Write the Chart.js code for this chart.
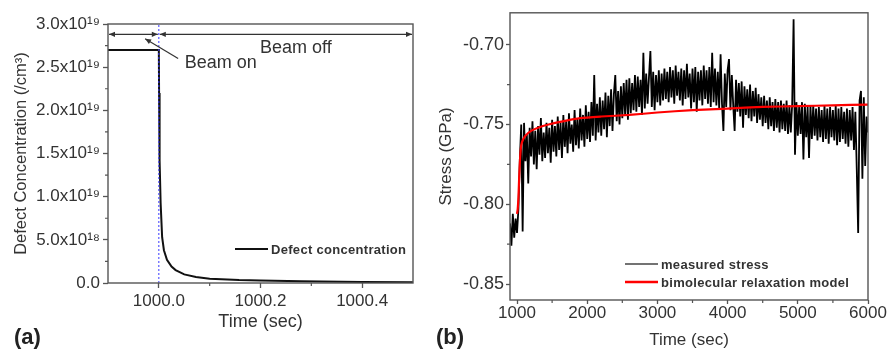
<!DOCTYPE html>
<html lang="en">
<head>
<meta charset="UTF-8" />
<title>Defect concentration and stress relaxation</title>
<style>
  body { margin: 0; background: #fff; }
  .figure { position: relative; width: 890px; height: 351px; overflow: hidden; font-family: "Liberation Sans", Arial, sans-serif; }
  .panel { position: absolute; top: 0; height: 351px; }
  #panelA { left: 0; width: 445px; }
  #panelB { left: 425px; width: 465px; }
  .tag { position: absolute; font-weight: bold; font-size: 22px; line-height: 22px; color: #222; }
</style>
<script src="https://cdn.jsdelivr.net/npm/chart.js"></script>
</head>
<body>
<div class="figure">
  <div class="panel" id="panelA"><canvas id="defectChart"></canvas></div>
  <div class="panel" id="panelB"><canvas id="stressChart"></canvas></div>
  <span class="tag" style="left:14px;top:326px">(a)</span>
  <span class="tag" style="left:436px;top:326px">(b)</span>
</div>

<script>
// ---- panel (a): defect concentration around beam switch-off ----
const defectTime = [999.9, 1000.0, 1000.0005, 1000.001, 1000.002, 1000.0035, 1000.0065, 1000.01, 1000.016,
  1000.025, 1000.033, 1000.05, 1000.073, 1000.1, 1000.158, 1000.2, 1000.28, 1000.4, 1000.5];
const defectConc = [2.7e19, 2.7e19, 2.2e19, 1.8e19, 1.42e19, 0.93e19, 0.53e19, 0.38e19, 0.27e19,
  0.19e19, 0.15e19, 0.10e19, 0.07e19, 0.05e19, 0.035e19, 0.03e19, 0.02e19, 0.012e19, 0.01e19];
const beamSwitchTime = 1000.0;

const defectXTicks = [1000.0, 1000.2, 1000.4];
const defectXLabels = ['1000.0', '1000.2', '1000.4'];
const defectYTicks = [0, 5e18, 1e19, 1.5e19, 2e19, 2.5e19, 3e19];
const defectYLabels = ['0.0', '5.0x10¹⁸', '1.0x10¹⁹', '1.5x10¹⁹', '2.0x10¹⁹', '2.5x10¹⁹', '3.0x10¹⁹'];

// beam on / off spans and labels (data coordinates)
const beamLevel = 2.88e19;
const beamOnSpan = [999.9, 1000.0];
const beamOffSpan = [1000.0, 1000.5];

// ---- panel (b): measured stress vs model ----
const stressStart = 900;   // s, first sample
const stressStep = 20;     // s, sample spacing
const stressValues = [
  -0.812, -0.826, -0.806, -0.821, -0.809,
  -0.818, -0.803, -0.772, -0.750, -0.817,
  -0.749, -0.773, -0.756, -0.787, -0.752,
  -0.770, -0.748, -0.775, -0.754, -0.778,
  -0.751, -0.769, -0.746, -0.773, -0.755,
  -0.771, -0.749, -0.768, -0.752, -0.774,
  -0.747, -0.767, -0.751, -0.770, -0.745,
  -0.766, -0.749, -0.771, -0.744, -0.764,
  -0.748, -0.768, -0.743, -0.762, -0.750,
  -0.767, -0.741, -0.763, -0.746, -0.765,
  -0.740, -0.760, -0.744, -0.764, -0.738,
  -0.759, -0.742, -0.761, -0.736, -0.757,
  -0.719, -0.760, -0.737, -0.755, -0.733,
  -0.757, -0.735, -0.753, -0.730, -0.758,
  -0.732, -0.751, -0.728, -0.754, -0.731,
  -0.719, -0.748, -0.729, -0.750, -0.726,
  -0.746, -0.724, -0.744, -0.722, -0.747,
  -0.721, -0.743, -0.724, -0.741, -0.719,
  -0.742, -0.720, -0.739, -0.722, -0.744,
  -0.705, -0.740, -0.718, -0.737, -0.720,
  -0.704, -0.739, -0.717, -0.741, -0.719,
  -0.736, -0.716, -0.738, -0.718, -0.735,
  -0.715, -0.734, -0.717, -0.736, -0.714,
  -0.733, -0.716, -0.737, -0.713, -0.732,
  -0.717, -0.735, -0.715, -0.738, -0.716,
  -0.734, -0.712, -0.733, -0.718, -0.740,
  -0.715, -0.736, -0.714, -0.742, -0.717,
  -0.735, -0.716, -0.738, -0.713, -0.734,
  -0.716, -0.737, -0.714, -0.739, -0.705,
  -0.736, -0.715, -0.738, -0.717, -0.740,
  -0.706, -0.737, -0.754, -0.718, -0.739,
  -0.716, -0.709, -0.741, -0.719, -0.738,
  -0.754, -0.722, -0.742, -0.724, -0.745,
  -0.723, -0.752, -0.726, -0.744, -0.728,
  -0.746, -0.725, -0.748, -0.729, -0.745,
  -0.727, -0.749, -0.731, -0.747, -0.733,
  -0.751, -0.732, -0.749, -0.735, -0.753,
  -0.733, -0.751, -0.736, -0.754, -0.734,
  -0.752, -0.736, -0.755, -0.735, -0.753,
  -0.737, -0.754, -0.735, -0.756, -0.738,
  -0.755, -0.737, -0.684, -0.769, -0.736,
  -0.757, -0.738, -0.756, -0.736, -0.772,
  -0.737, -0.758, -0.739, -0.771, -0.738,
  -0.759, -0.738, -0.757, -0.740, -0.760,
  -0.739, -0.758, -0.741, -0.761, -0.738,
  -0.759, -0.740, -0.762, -0.739, -0.758,
  -0.741, -0.760, -0.738, -0.763, -0.740,
  -0.761, -0.739, -0.759, -0.742, -0.762,
  -0.740, -0.764, -0.741, -0.760, -0.739,
  -0.766, -0.742, -0.778, -0.818, -0.735,
  -0.729, -0.784, -0.733, -0.776, -0.745,
  -0.755
];
const modelTime = [1000, 1010, 1020, 1030, 1045, 1060, 1080, 1120, 1200, 1300, 1450, 1650, 1900,
  2200, 2600, 3000, 3500, 4000, 4500, 5000, 5500, 6000];
const modelStress = [-0.806, -0.803, -0.796, -0.784, -0.770, -0.763, -0.760, -0.757, -0.754, -0.752, -0.750,
  -0.748, -0.746, -0.745, -0.744, -0.7425, -0.741, -0.740, -0.739, -0.7385, -0.738, -0.7375];

const stressXTicks = [1000, 2000, 3000, 4000, 5000, 6000];
const stressXLabels = ['1000', '2000', '3000', '4000', '5000', '6000'];
const stressYTicks = [-0.85, -0.80, -0.75, -0.70];
const stressYLabels = ['-0.85', '-0.80', '-0.75', '-0.70'];

Chart.defaults.font.family = '"Liberation Sans", Arial, sans-serif';
Chart.defaults.color = '#333';

const axisColor = '#555';

// minor ticks halfway between the major ones (plus one beyond each end)
function minorOf(major) {
  const out = [];
  const step = major[1] - major[0];
  out.push(major[0] - step / 2);
  for (let i = 0; i < major.length - 1; i++) out.push((major[i] + major[i + 1]) / 2);
  out.push(major[major.length - 1] + step / 2);
  return out;
}

// box frame, minor ticks and a hand-made legend
const framePlugin = {
  id: 'frame',
  afterDraw(chart, args, opts) {
    const { ctx, chartArea: a, scales } = chart;
    ctx.save();
    ctx.strokeStyle = axisColor;
    ctx.lineWidth = 1.4;
    ctx.strokeRect(a.left, a.top, a.right - a.left, a.bottom - a.top);
    ctx.lineWidth = 1.2;
    ctx.beginPath();
    opts.xMinor.forEach(v => {
      if (v <= scales.x.min || v >= scales.x.max) return;
      const px = scales.x.getPixelForValue(v);
      ctx.moveTo(px, a.bottom); ctx.lineTo(px, a.bottom + 3);
    });
    opts.yMinor.forEach(v => {
      if (v <= scales.y.min || v >= scales.y.max) return;
      const py = scales.y.getPixelForValue(v);
      ctx.moveTo(a.left, py); ctx.lineTo(a.left - 3, py);
    });
    ctx.stroke();

    // legend
    ctx.font = 'bold 13px "Liberation Sans", Arial, sans-serif';
    ctx.letterSpacing = '0.3px';
    ctx.textBaseline = 'middle';
    ctx.fillStyle = '#333';
    opts.legend.forEach(item => {
      const ds = chart.data.datasets[item.dataset];
      const x0 = a.left + item.dx;
      const y0 = a.bottom - item.dy;
      ctx.strokeStyle = item.color || ds.borderColor;
      ctx.lineWidth = item.width;
      ctx.beginPath();
      ctx.moveTo(x0, y0); ctx.lineTo(x0 + 33, y0);
      ctx.stroke();
      ctx.fillText(ds.label, x0 + 36, y0 + 1);
    });
    ctx.restore();
  }
};

function arrowHead(ctx, x, y, dirX, dirY) {
  const len = 6, half = 2.6;
  const n = Math.hypot(dirX, dirY);
  const ux = dirX / n, uy = dirY / n;
  ctx.beginPath();
  ctx.moveTo(x, y);
  ctx.lineTo(x - ux * len - uy * half, y - uy * len + ux * half);
  ctx.lineTo(x - ux * len + uy * half, y - uy * len - ux * half);
  ctx.closePath();
  ctx.fill();
}

const beamPlugin = {
  id: 'beam',
  afterDatasetsDraw(chart) {
    const { ctx, scales: { x, y } } = chart;
    ctx.save();
    ctx.strokeStyle = '#333';
    ctx.fillStyle = '#333';
    ctx.lineWidth = 1.2;
    const yA = y.getPixelForValue(beamLevel);
    [beamOnSpan, beamOffSpan].forEach(span => {
      const xa = x.getPixelForValue(span[0]) + 1;
      const xb = x.getPixelForValue(span[1]) - 1;
      ctx.beginPath();
      ctx.moveTo(xa, yA); ctx.lineTo(xb, yA);
      ctx.stroke();
      arrowHead(ctx, xa, yA, -1, 0);
      arrowHead(ctx, xb, yA, 1, 0);
    });
    // pointer for "Beam on"
    const px0 = x.getPixelForValue(1000.038), py0 = y.getPixelForValue(2.60e19);
    const px1 = x.getPixelForValue(999.973), py1 = y.getPixelForValue(2.83e19);
    ctx.beginPath();
    ctx.moveTo(px0, py0); ctx.lineTo(px1, py1);
    ctx.stroke();
    arrowHead(ctx, px1, py1, px1 - px0, py1 - py0);

    ctx.font = '18px "Liberation Sans", Arial, sans-serif';
    ctx.textBaseline = 'middle';
    ctx.fillText('Beam off', x.getPixelForValue(1000.199), y.getPixelForValue(2.725e19));
    ctx.fillText('Beam on', x.getPixelForValue(1000.051), y.getPixelForValue(2.545e19));
    ctx.restore();
  }
};

function tickGrid() {
  return { display: true, drawOnChartArea: false, drawTicks: true, tickLength: 5, tickColor: axisColor, tickWidth: 1.3 };
}

new Chart(document.getElementById('defectChart'), {
  type: 'line',
  data: {
    datasets: [
      {
        label: 'beam switch',
        data: [{ x: beamSwitchTime, y: 0 }, { x: beamSwitchTime, y: 3e19 }],
        borderColor: '#3a3aff',
        borderWidth: 1,
        borderDash: [2, 2],
        pointRadius: 0,
        order: 0
      },
      {
        label: 'Defect concentration',
        data: defectTime.map((t, i) => ({ x: t, y: defectConc[i] })),
        borderColor: '#111',
        borderWidth: 2,
        pointRadius: 0,
        tension: 0,
        order: 1
      }
    ]
  },
  options: {
    responsive: true,
    maintainAspectRatio: false,
    animation: false,
    events: [],
    layout: { padding: { top: 24, right: 32, left: 0, bottom: 0 } },
    plugins: {
      legend: { display: false },
      tooltip: { enabled: false },
      frame: {
        xMinor: minorOf(defectXTicks),
        yMinor: minorOf(defectYTicks),
        legend: [{ dataset: 1, dx: 127, dy: 34, width: 2 }]
      }
    },
    scales: {
      x: {
        type: 'linear',
        min: 999.9,
        max: 1000.5,
        afterBuildTicks: s => { s.ticks = defectXTicks.map(v => ({ value: v })); },
        afterFit: s => { s.height = 68; },
        ticks: {
          autoSkip: false, maxRotation: 0, padding: 3, font: { size: 17 },
          callback: v => defectXLabels[defectXTicks.indexOf(v)]
        },
        grid: tickGrid(),
        border: { display: false },
        title: { display: true, text: 'Time (sec)', font: { size: 18 }, padding: { top: 0, bottom: 18 } }
      },
      y: {
        min: 0,
        max: 3e19,
        afterBuildTicks: s => { s.ticks = defectYTicks.map(v => ({ value: v })); },
        afterFit: s => { s.width = 108; },
        ticks: {
          autoSkip: false, padding: 3, font: { size: 17 },
          callback: v => defectYLabels[defectYTicks.indexOf(v)]
        },
        grid: tickGrid(),
        border: { display: false },
        title: { display: true, text: 'Defect Concentration (/cm³)', font: { size: 16.5 }, padding: { top: 12, bottom: 0 } }
      }
    }
  },
  plugins: [beamPlugin, framePlugin]
});

new Chart(document.getElementById('stressChart'), {
  type: 'line',
  data: {
    datasets: [
      {
        label: 'bimolecular relaxation model',
        data: modelTime.map((t, i) => ({ x: t, y: modelStress[i] })),
        borderColor: '#ff0000',
        borderWidth: 2.2,
        pointRadius: 0,
        tension: 0.2,
        order: 0
      },
      {
        label: 'measured stress',
        data: stressValues.map((v, i) => ({ x: stressStart + i * stressStep, y: v })),
        borderColor: '#000',
        borderWidth: 1.8,
        pointRadius: 0,
        tension: 0,
        order: 1
      }
    ]
  },
  options: {
    responsive: true,
    maintainAspectRatio: false,
    animation: false,
    events: [],
    layout: { padding: { top: 12, right: 22, left: 0, bottom: 0 } },
    plugins: {
      legend: { display: false },
      tooltip: { enabled: false },
      frame: {
        xMinor: minorOf(stressXTicks),
        yMinor: minorOf(stressYTicks),
        legend: [
          { dataset: 1, dx: 115, dy: 36, width: 1.5, color: '#444' },
          { dataset: 0, dx: 115, dy: 18, width: 2.5 }
        ]
      }
    },
    scales: {
      x: {
        type: 'linear',
        min: 900,
        max: 6000,
        afterBuildTicks: s => { s.ticks = stressXTicks.map(v => ({ value: v })); },
        afterFit: s => { s.height = 51; },
        ticks: {
          autoSkip: false, maxRotation: 0, padding: -1, font: { size: 17 },
          callback: v => stressXLabels[stressXTicks.indexOf(v)]
        },
        grid: Object.assign(tickGrid(), { tickLength: 4 }),
        border: { display: false },
        title: { display: true, text: 'Time (sec)', font: { size: 17 }, padding: { top: 0, bottom: 0 } }
      },
      y: {
        min: -0.86,
        max: -0.68,
        afterBuildTicks: s => { s.ticks = stressYTicks.map(v => ({ value: v })); },
        afterFit: s => { s.width = 85; },
        ticks: {
          autoSkip: false, padding: 2, font: { size: 18 },
          callback: v => stressYLabels[stressYTicks.indexOf(v)]
        },
        grid: Object.assign(tickGrid(), { tickLength: 4 }),
        border: { display: false },
        title: { display: true, text: 'Stress (GPa)', font: { size: 17 }, padding: { top: 11, bottom: 0 } }
      }
    }
  },
  plugins: [framePlugin]
});
</script>
</body>
</html>
